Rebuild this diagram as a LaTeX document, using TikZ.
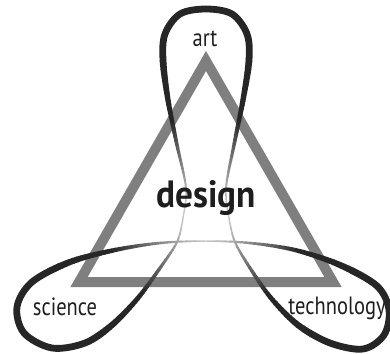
\documentclass[tikz,border=0pt]{standalone}
\usepackage{fontspec}
\setmainfont{PT Sans}[FakeStretch=0.82]
\newfontfamily\headfont{PT Sans}[FakeStretch=0.93]
\usepackage{tikz}
\definecolor{trianglegray}{HTML}{7F7F7F}
\definecolor{textdark}{HTML}{1E1E1E}

% the closed curve with its three loops
\newcommand{\loopcurve}{plot[smooth cycle, tension=0.55] coordinates {
  (206,9) (232,14) (247,34) (249,60) (243,100) (234,145) (226,188) (229,218)
  (235,242) (250,268) (271,298) (298,325) (330,343) (363,349) (384,335)
  (389,310) (377,286) (340,265) (295,250) (250,243) (206,241) (160,243)
  (115,250) (70,262) (32,282) (17,307) (24,333) (52,348) (85,343) (112,325)
  (138,298) (160,268) (177,242) (183,218) (186,188) (177,145) (168,100)
  (163,60) (165,34) (180,14)}}

\begin{document}
\begin{tikzpicture}[x=1pt, y=-1pt,
  word/.style={text=textdark, inner sep=0pt, anchor=base,
    font=\fontsize{25}{29}\selectfont}]
\useasboundingbox (0,0) rectangle (390,353);

% triangle
\coordinate (apex) at (206,61);
\coordinate (left) at (79,282);
\coordinate (right) at (333,282);
\draw[trianglegray, line width=10pt, line join=miter] (apex) -- (left) -- (right) -- cycle;

% loops, thinner and lighter towards the middle
\coordinate (mid) at (206,215);
\foreach \r in {0,4,...,160} {
  \pgfmathsetmacro{\ri}{max(\r-0.3,0.01)}
  \pgfmathsetmacro{\ro}{\r<160 ? \r+4.3 : 700}
  \pgfmathsetmacro{\w}{1.4+5.4*min(max((\r+2-24)/136,0),1)}
  \pgfmathsetmacro{\c}{22+63*min(max((\r+2-24)/76,0),1)}
  \begin{scope}
    \clip (mid) ++(\ro,0) arc[start angle=0, end angle=360, radius=\ro]
      -- ++({\ri-\ro},0) arc[start angle=360, end angle=0, radius=\ri] -- cycle;
    \draw[line width=\w pt, draw=black!\c, line join=round] \loopcurve;
  \end{scope}
}

% labels
\node[word] (art) at (205,47) {art};
\node[word] (science) at (65,315) {science};
\node[word] (technology) at (337,314) {technology};
\node[word, font=\fontsize{38}{44}\headfont\bfseries] (design) at (206,207) {design};
\end{tikzpicture}
\end{document}
